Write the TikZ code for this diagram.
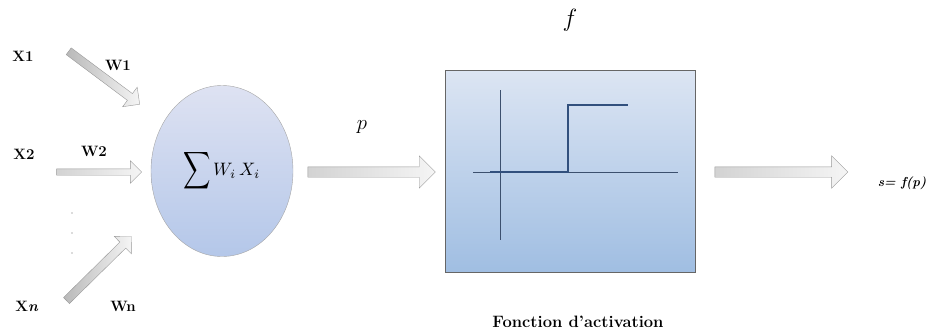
\documentclass[tikz,border=0pt]{standalone}
\usetikzlibrary{shapes.geometric,shapes.arrows,calc}
\definecolor{axisblue}{RGB}{60,80,110}
\definecolor{stepblue}{RGB}{50,80,125}
\definecolor{boxtop}{RGB}{220,229,243}
\definecolor{boxbot}{RGB}{160,190,226}
\definecolor{elltop}{RGB}{222,226,242}
\definecolor{ellbot}{RGB}{180,199,233}
\tikzset{
  lbl/.style={font=\fontsize{15}{17}\selectfont\bfseries, inner sep=1pt},
  barrowthin/.style={single arrow, draw=gray!80, left color=gray!35, right color=gray!8,
    minimum width=0pt, inner xsep=0pt, inner ysep=3pt, single arrow head extend=8pt,
    single arrow tip angle=90},
  barrowmid/.style={barrowthin, inner ysep=4pt, left color=gray!55},
  barrowthick/.style={barrowthin, inner ysep=5pt, single arrow head extend=11pt},
  sumnode/.style={ellipse, draw=gray!70, top color=elltop, bottom color=ellbot,
    minimum width=142pt, minimum height=171pt, inner sep=0pt},
  actbox/.style={rectangle, draw=gray!80!black, top color=boxtop, bottom color=boxbot,
    minimum width=250pt, minimum height=202pt, inner sep=0pt},
  axisline/.style={draw=axisblue, line width=0.8pt},
  stepline/.style={draw=stepblue, line width=2.8pt},
  faintdot/.style={circle, fill=gray!55, inner sep=0pt, minimum size=1.8pt}
}
\newcommand\blockarrow[3]{%
  \path let \p1=($(#3)-(#2)$), \n1={atan2(\y1,\x1)}, \n2={veclen(\x1,\y1)} in
    node[#1, rotate=\n1, minimum height=\n2] at ($(#2)!0.5!(#3)$) {};}
\begin{document}
\begin{tikzpicture}[x=1pt,y=-1pt]
\useasboundingbox (0,0) rectangle (929,333);
% input labels
\node[lbl] (x1) at (23,56) {X1};
\node[lbl] (w1) at (118,65) {W1};
\node[lbl] (x2) at (24,154) {X2};
\node[lbl] (w2) at (94,151) {W2};
\node[lbl] (xn) at (27,306) {X\textit{n}};
\node[lbl] (wn) at (123,306) {Wn};
\node[faintdot] (d1) at (72,213) {};
\node[faintdot] (d2) at (72,233) {};
\node[faintdot] (d3) at (72,253) {};
% summation node
\node[sumnode] (sum) at (222,171) {$\vcenter{\hbox{\scalebox{1.9}[2.6]{$\displaystyle\sum$}}}\,\vcenter{\hbox{\scalebox{1.8}{$W_i\,X_i$}}}$};
% activation box
\node[actbox] (act) at (570,171) {};
\draw[axisline] (500,90) -- (500,240);
\draw[axisline] (473,172) -- (678,172);
\draw[stepline] (490,172) -- (568,172) -- (568,105) -- (628,105);
\node (f) at (570,20) {\fontsize{28}{30}\selectfont$f$};
\node (cap) at (578,322) {\fontsize{16.5}{18}\selectfont\bfseries Fonction d'activation};
\node (p) at (362,127) {\fontsize{20}{22}\selectfont$p$};
\node[font=\fontsize{13}{15}\selectfont\bfseries\itshape] (out) at (902,183) {s= f(p)};
% arrow end points
\coordinate (a1s) at (67,50);
\coordinate (a1e) at (138,103);
\coordinate (a2s) at (55,172);
\coordinate (a2e) at (140,172);
\coordinate (ans) at (65,302);
\coordinate (ane) at (130,238);
\coordinate (ps) at ($(sum.east)+(12,1)$);
\coordinate (pe) at ($(act.west)+(-12,1)$);
\coordinate (os) at ($(act.east)+(17,1)$);
\coordinate (oe) at ($(act.east)+(150,1)$);
\blockarrow{barrowmid}{a1s}{a1e}
\blockarrow{barrowthin}{a2s}{a2e}
\blockarrow{barrowmid}{ans}{ane}
\blockarrow{barrowthick}{ps}{pe}
\blockarrow{barrowthick}{os}{oe}
\end{tikzpicture}
\end{document}
